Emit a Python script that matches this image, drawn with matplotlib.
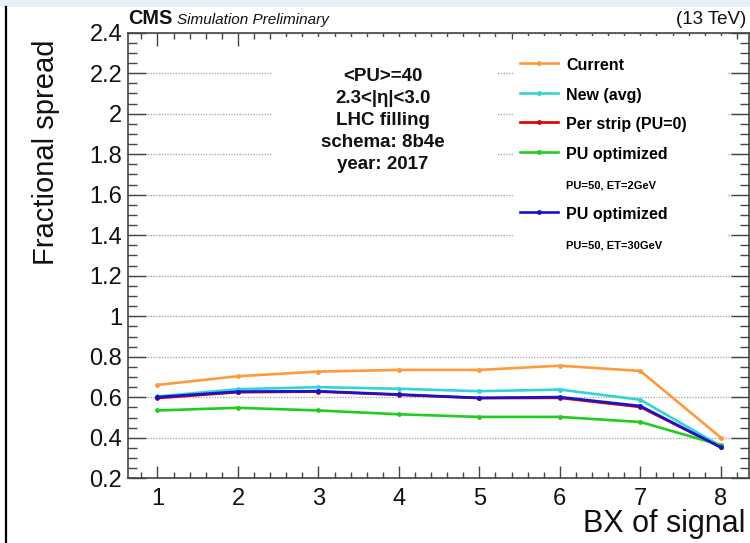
import matplotlib
matplotlib.use('Agg')
import matplotlib.pyplot as plt
from matplotlib.lines import Line2D
from matplotlib.patches import Rectangle
from matplotlib.ticker import MultipleLocator, FormatStrFormatter

plt.rcParams['font.family'] = ['Liberation Sans', 'DejaVu Sans']

# ---------------- data ----------------
bx = [1, 2, 3, 4, 5, 6, 7, 8]
current = [0.661, 0.704, 0.727, 0.735, 0.735, 0.756, 0.730, 0.401]
new_avg = [0.604, 0.640, 0.650, 0.642, 0.630, 0.638, 0.588, 0.359]
per_strip = [0.596, 0.625, 0.628, 0.612, 0.596, 0.597, 0.552, 0.353]
pu_opt_2gev = [0.535, 0.548, 0.535, 0.516, 0.503, 0.503, 0.478, 0.364]
pu_opt_30gev = [0.601, 0.628, 0.630, 0.614, 0.597, 0.601, 0.557, 0.353]

series_labels = ['Current', 'New (avg)', 'Per strip (PU=0)', 'PU optimized', 'PU optimized']
sub_labels = ['PU=50, ET=2GeV', 'PU=50, ET=30GeV']
series_colors = ['#ff9a3c', '#33d4d4', '#dd0000', '#22cc22', '#1515cc']
x_label = 'BX of signal'
y_label = 'Fractional spread'
info_lines = ['<PU>=40', '2.3<|η|<3.0', 'LHC filling', 'schema: 8b4e', 'year: 2017']

# ---------------- figure ----------------
fig = plt.figure(figsize=(7.5, 5.43), dpi=100)
W, H = 750, 543
ax_l, ax_r, ax_t, ax_b = 127.7, 749.0, 32.7, 478.3
ax = fig.add_axes([ax_l / W, 1 - ax_b / H, (ax_r - ax_l) / W, (ax_b - ax_t) / H])

# decorative page elements
fig.patches.append(Rectangle((0, 1 - 7 / H), 1, 7 / H, transform=fig.transFigure,
                             facecolor='#e8eff8', edgecolor='none'))
fig.add_artist(Line2D([5.5 / W, 5.5 / W], [0, 1 - 7 / H], transform=fig.transFigure,
                      color='black', lw=1.6))

ax.set_xlim(0.63, 8.35)
ax.set_ylim(0.2, 2.4)

ax.xaxis.set_major_locator(MultipleLocator(1))
ax.xaxis.set_minor_locator(MultipleLocator(0.2))
ax.yaxis.set_major_locator(MultipleLocator(0.2))
ax.yaxis.set_minor_locator(MultipleLocator(0.05))
ax.yaxis.set_major_formatter(FormatStrFormatter('%g'))

tick_col = '#444444'
ax.tick_params(axis='both', which='both', direction='in', top=True, right=True,
               colors=tick_col, labelcolor='#111111', width=1.0)
ax.tick_params(axis='x', which='major', length=9, labelsize=17, pad=7)
ax.tick_params(axis='x', which='minor', length=4.5)
ax.tick_params(axis='y', which='major', length=13, labelsize=17, pad=4)
ax.tick_params(axis='y', which='minor', length=6.5)
for s in ax.spines.values():
    s.set_color('#444444')
    s.set_linewidth(1.2)

ax.set_axisbelow(True)
ax.yaxis.grid(True, which='major', color='#aaaaaa', linestyle=(0, (1, 1)), linewidth=1.0)

# white boxes of the text block and legend hiding the grid
ax.add_patch(Rectangle((0.2323, 0.6807), 0.3621, 0.31, transform=ax.transAxes,
                       facecolor='white', edgecolor='none', zorder=1))
ax.add_patch(Rectangle((0.620, 0.5123), 0.3447, 0.48, transform=ax.transAxes,
                       facecolor='white', edgecolor='none', zorder=1))

all_series = [current, new_avg, per_strip, pu_opt_2gev, pu_opt_30gev]
handles = []
for vals, lab, col in zip(all_series, series_labels, series_colors):
    h, = ax.plot(bx, vals, color=col, lw=1.9, marker='o', markersize=3.5,
                 markeredgewidth=0, zorder=3, label=lab)
    handles.append(h)

blank = Line2D([], [], linestyle='none', marker=None)
leg_handles = [handles[0], handles[1], handles[2], handles[3], blank, handles[4], blank]
leg_labels = [series_labels[0], series_labels[1], series_labels[2], series_labels[3],
              sub_labels[0], series_labels[4], sub_labels[1]]
leg = ax.legend(leg_handles, leg_labels, loc='upper left', bbox_to_anchor=(0.6314, 0.9477),
                frameon=False, prop={'weight': 'bold', 'size': 11.5}, handlelength=2.4,
                handletextpad=0.5, handleheight=1.3, labelspacing=0.77, borderpad=0,
                borderaxespad=0)
for i in (4, 6):
    leg.get_texts()[i].set_fontsize(8)

# info text block
for i, line in enumerate(info_lines):
    ax.text(0.411, 0.902 - i * 0.0494, line, transform=ax.transAxes, ha='center',
            va='center', fontsize=13.5, fontweight='bold', color='#111111', zorder=4)

# header
fig.text(ax_l / W, 1 - 24 / H, 'CMS', fontsize=14.3, fontweight='bold', ha='left',
         va='baseline', color='#111111')
fig.text(177 / W, 1 - 24 / H, 'Simulation Preliminary', fontsize=11, style='italic',
         ha='left', va='baseline', color='#111111')
fig.text(746 / W, 1 - 24 / H, '(13 TeV)', fontsize=13.5, ha='right', va='baseline',
         color='#111111')

ax.set_xlabel(x_label, fontsize=22, color='#111111')
ax.set_ylabel(y_label, fontsize=21, color='#111111')
ax.xaxis.set_label_coords(0.9936, -0.068)
ax.xaxis.label.set_ha('right')
ax.yaxis.set_label_coords(-0.109, 0.984)
ax.yaxis.label.set_ha('right')

fig.savefig('out.png', dpi=100)
